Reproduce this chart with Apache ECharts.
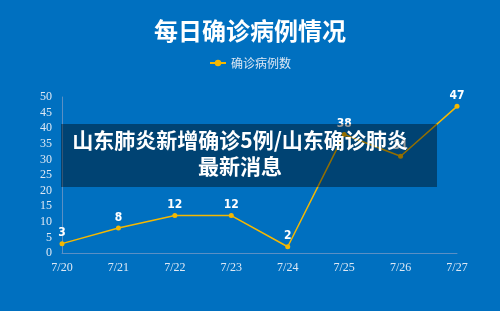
<!DOCTYPE html>
<html><head><meta charset="utf-8">
<script src="https://cdn.jsdelivr.net/npm/echarts@6/dist/echarts.min.js"></script>
<style>html,body{margin:0;padding:0;background:#0070C0;}#c{width:500px;height:311px;}</style>
</head><body><div id="c"></div>
<script>
const categories = ['7/20','7/21','7/22','7/23','7/24','7/25','7/26','7/27'];
const values = [3, 8, 12, 12, 2, 38, 31, 47];
const seriesName = '确诊病例数';
const titleText = '每日确诊病例情况';
const overlayLines = ['山东肺炎新增确诊5例/山东确诊肺炎', '最新消息'];

const chart = echarts.init(document.getElementById('c'));
chart.setOption({
  backgroundColor: '#0070C0',
  title: {text: titleText, left: 'center', top: 14,
    textStyle: {color: '#fff', fontSize: 24, fontWeight: 'bold', fontFamily: 'Noto Sans CJK SC'}},
  legend: {data: [seriesName], top: 52, left: 'center', itemWidth: 16, itemHeight: 8, itemGap: 3,
    textStyle: {color: '#dde8f4', fontSize: 12, fontFamily: 'Noto Sans CJK SC'}},
  grid: {left: 62, right: 43, top: 97, bottom: 58},
  xAxis: {type: 'category', data: categories, boundaryGap: false,
    axisLine: {lineStyle: {color: '#5b8fc4', width: 1}}, axisTick: {show: false},
    axisLabel: {color: '#dde8f4', fontSize: 12, fontFamily: 'Liberation Serif', margin: 9}},
  yAxis: {type: 'value', min: 0, max: 50, interval: 5,
    splitLine: {show: false},
    axisLine: {show: true, lineStyle: {color: '#5b8fc4', width: 1}}, axisTick: {show: false},
    axisLabel: {color: '#dde8f4', fontSize: 12, fontFamily: 'Liberation Serif', margin: 10}},
  series: [{name: seriesName, type: 'line', data: values,
    symbol: 'circle', symbolSize: 5,
    lineStyle: {color: '#F5B800', width: 1.5}, itemStyle: {color: '#F5B800'},
    label: {show: true, position: 'top', distance: 2, color: '#fff', fontSize: 12, fontWeight: 'bold',
      fontFamily: 'DejaVu Sans Condensed'}}],
  graphic: [
    {type: 'rect', left: 61, top: 124, z: 100, shape: {width: 376, height: 63},
      style: {fill: 'rgba(0,0,0,0.4)'}},
    {type: 'text', x: 240, y: 127, z: 101,
      style: {text: overlayLines.join('\n'), fill: '#fff', font: 'bold 21px "Noto Sans CJK SC"',
        textAlign: 'center', textVerticalAlign: 'top', lineHeight: 26}}
  ]
});
</script></body></html>
